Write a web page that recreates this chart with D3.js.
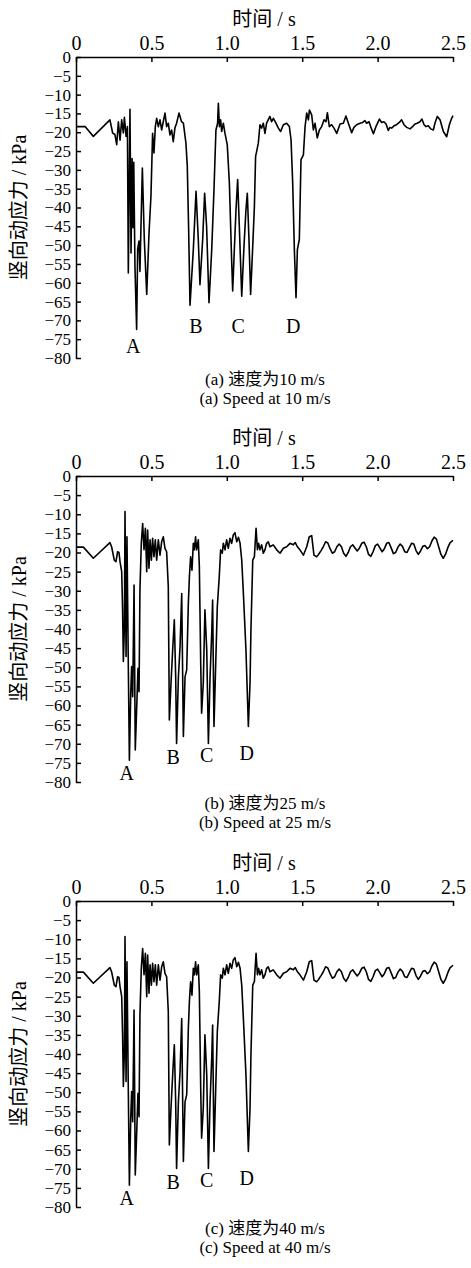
<!DOCTYPE html>
<html>
<head>
<meta charset="utf-8">
<script src="https://cdn.jsdelivr.net/npm/d3@7"></script>
<style>
	body { margin: 0; background: #fff; }
	svg { display: block; }
</style>
</head>
<body>
<svg id="chart"></svg>
<script>
// Time axis ticks (s) and stress ticks (kPa)
var timeTicks = [0, 0.5, 1.0, 1.5, 2.0, 2.5];
var stressTicks = d3.range(0, -81, -5);

// Peak labels
var peakNames = ['A', 'B', 'C', 'D'];
var peakTimeA = [0.38, 0.796, 1.076, 1.441];
var peakStressA = [-76.8, -71.5, -71.5, -71.5];
var peakTimeB = [0.336, 0.645, 0.867, 1.132];
var peakStressB = [-77.7, -73.4, -73.0, -72.5];

// Captions
var captionsCn = ['(a) 速度为10 m/s', '(b) 速度为25 m/s', '(c) 速度为40 m/s'];
var captionsEn = ['(a) Speed at 10 m/s', '(b) Speed at 25 m/s', '(c) Speed at 40 m/s'];

// Measured vertical dynamic stress, [time s, stress kPa]
// 10 m/s
var seriesA = [
	[0, -18.5], [0.06, -18.5], [0.115, -21.1], [0.225, -16.7], [0.243, -20.2], [0.258, -20.6],
	[0.27, -23.3], [0.281, -17.2], [0.292, -22.1], [0.303, -16.7], [0.314, -20.2], [0.321, -16.0],
	[0.332, -21.1], [0.341, -18.5], [0.347, -57.4], [0.354, -29.7], [0.358, -13.9], [0.365, -52.1],
	[0.372, -27], [0.378, -45.4], [0.383, -28], [0.391, -55.7], [0.402, -72.4], [0.409, -51],
	[0.418, -48.9], [0.424, -57], [0.44, -29.5], [0.453, -48.5], [0.469, -63.1], [0.484, -47],
	[0.497, -37], [0.508, -20.3], [0.517, -25.5], [0.526, -18.5], [0.535, -16.3], [0.546, -18.5],
	[0.557, -16.7], [0.568, -19.4], [0.59, -14.9], [0.601, -18.5], [0.612, -17.6], [0.623, -20.7],
	[0.634, -19.4], [0.645, -22.5], [0.656, -18.9], [0.667, -17.6], [0.683, -14.9], [0.7, -17.2],
	[0.712, -17.6], [0.729, -22.9], [0.738, -29], [0.747, -46], [0.756, -66], [0.778, -51.2],
	[0.796, -35.7], [0.811, -48.5], [0.822, -60.5], [0.84, -48.5], [0.853, -36.2], [0.866, -45],
	[0.882, -65.3], [0.9, -51.2], [0.915, -35.3], [0.928, -19.4], [0.939, -17.6], [0.944, -12.3],
	[0.951, -18.5], [0.959, -16.7], [0.966, -19.8], [0.977, -17.6], [0.988, -20.3], [1.003, -23.3],
	[1.017, -33.5], [1.032, -53.8], [1.039, -62.2], [1.05, -51.2], [1.061, -40.6], [1.072, -32.6],
	[1.083, -45], [1.099, -63.6], [1.114, -50.3], [1.127, -40.6], [1.136, -36.2], [1.147, -48.5],
	[1.158, -63.1], [1.171, -51.2], [1.183, -39.7], [1.191, -26.4], [1.198, -25.1], [1.209, -22.9],
	[1.22, -18], [1.231, -18.9], [1.242, -17.6], [1.253, -20.3], [1.264, -17.6], [1.286, -15.8],
	[1.297, -17.2], [1.309, -16.3], [1.326, -17.6], [1.342, -18.9], [1.357, -19.8], [1.375, -18],
	[1.397, -17.6], [1.415, -18.5], [1.426, -22], [1.437, -33.5], [1.448, -51.2], [1.459, -64],
	[1.468, -51.2], [1.481, -48.5], [1.492, -27.3], [1.508, -26], [1.519, -18.5], [1.53, -14.9],
	[1.541, -16.7], [1.548, -14.1], [1.563, -15.4], [1.574, -19.4], [1.585, -17.6], [1.6, -21.5],
	[1.614, -19.4], [1.629, -18.5], [1.645, -16.7], [1.658, -17.2], [1.667, -14.8], [1.68, -18.5],
	[1.695, -18], [1.711, -18.9], [1.729, -20.3], [1.751, -17.8], [1.773, -17.6], [1.79, -15.7],
	[1.806, -17.6], [1.828, -20.1], [1.843, -18.7], [1.861, -18], [1.883, -17.6], [1.901, -17.4],
	[1.916, -16.9], [1.927, -17.6], [1.943, -17.2], [1.954, -18.5], [1.972, -20.4], [1.989, -18.5],
	[2.012, -16.5], [2.027, -17.4], [2.042, -17.2], [2.056, -17.8], [2.071, -19.5], [2.082, -18.7],
	[2.093, -18.9], [2.109, -18.3], [2.126, -18], [2.144, -17.4], [2.159, -16.7], [2.175, -18],
	[2.193, -18.7], [2.215, -19.1], [2.232, -18.5], [2.248, -17.8], [2.263, -17.6], [2.281, -17.2],
	[2.294, -16.5], [2.308, -18], [2.321, -18.5], [2.336, -18.3], [2.352, -19.1], [2.37, -19.4],
	[2.38, -17.6], [2.396, -15.8], [2.414, -16.7], [2.436, -19.8], [2.458, -21.2], [2.476, -18],
	[2.491, -16.3], [2.5, -15.6]
];

// 25 m/s and 40 m/s (both records look the same)
var seriesB = [
	[0, -18.6], [0.049, -18.6], [0.115, -21.5], [0.225, -17.4], [0.236, -18.5], [0.254, -22],
	[0.265, -22.4], [0.276, -19.8], [0.285, -20], [0.292, -22.4], [0.303, -25], [0.309, -35],
	[0.314, -48.5], [0.321, -39.4], [0.325, -9.3], [0.332, -47.2], [0.338, -15.9], [0.347, -49.8],
	[0.354, -74.3], [0.363, -56.8], [0.369, -49.8], [0.376, -57.7], [0.385, -28.5], [0.393, -71.6],
	[0.402, -61.2], [0.411, -50.3], [0.418, -56.4], [0.424, -29.8], [0.433, -17.6], [0.442, -12.4],
	[0.451, -19.3], [0.46, -13.7], [0.469, -25], [0.475, -14.1], [0.484, -24.1], [0.491, -16.7],
	[0.5, -22], [0.508, -16.3], [0.517, -21.1], [0.526, -16.7], [0.535, -22], [0.546, -16.7],
	[0.557, -20.7], [0.568, -17.2], [0.579, -15.9], [0.59, -18.9], [0.601, -19.8], [0.612, -28.9],
	[0.619, -63.8], [0.63, -54.2], [0.641, -45.5], [0.652, -37.6], [0.661, -52.5], [0.667, -69.9],
	[0.679, -52.5], [0.69, -44.6], [0.701, -30.7], [0.712, -68.1], [0.723, -52.5], [0.734, -50.7],
	[0.745, -33.3], [0.752, -26.3], [0.76, -21.1], [0.769, -24.6], [0.778, -17.6], [0.785, -19.3],
	[0.793, -15.9], [0.8, -19.3], [0.811, -16.7], [0.818, -23.7], [0.827, -49], [0.833, -62],
	[0.844, -54.2], [0.855, -35], [0.867, -45.5], [0.878, -69.9], [0.889, -52.5], [0.9, -41.1],
	[0.906, -32.4], [0.915, -65.5], [0.926, -49.8], [0.937, -34.2], [0.95, -26.3], [0.959, -19.3],
	[0.97, -20.2], [0.977, -17.6], [0.988, -19.3], [0.999, -16.7], [1.01, -18.9], [1.021, -16.3],
	[1.032, -17.6], [1.043, -15.4], [1.054, -14.8], [1.066, -17.2], [1.077, -16], [1.088, -17.6],
	[1.099, -22], [1.11, -30.7], [1.127, -45.5], [1.143, -65.5], [1.154, -54.2], [1.16, -40.3],
	[1.172, -22], [1.183, -21.1], [1.194, -13.7], [1.203, -19.3], [1.211, -17.6], [1.22, -19.3],
	[1.231, -18], [1.242, -20.2], [1.253, -19.3], [1.264, -17.6], [1.275, -17.2], [1.286, -18.5],
	[1.308, -18], [1.331, -19.3], [1.353, -20.2], [1.375, -18.9], [1.397, -18.5], [1.419, -17.6],
	[1.441, -18], [1.454, -17.4], [1.468, -18.5], [1.485, -19.3], [1.508, -20.7], [1.53, -18.5],
	[1.547, -15.9], [1.563, -15.6], [1.578, -20.7], [1.596, -21.1], [1.607, -20.6], [1.625, -19.5],
	[1.64, -18.5], [1.655, -17.2], [1.67, -17.5], [1.685, -19], [1.7, -20.2], [1.715, -19.8],
	[1.73, -18.5], [1.745, -17.8], [1.76, -18.5], [1.775, -20.2], [1.79, -21], [1.805, -20],
	[1.82, -18.5], [1.835, -18], [1.85, -18.8], [1.865, -19.6], [1.88, -18.8], [1.895, -17.6],
	[1.91, -17.3], [1.925, -18.5], [1.94, -20.5], [1.955, -21], [1.97, -19.8], [1.985, -18.2],
	[2.0, -17.8], [2.015, -18.8], [2.03, -19.8], [2.045, -19], [2.06, -17.6], [2.075, -17.4],
	[2.09, -18.8], [2.105, -20.3], [2.12, -20], [2.135, -18.6], [2.15, -17.8], [2.165, -18.4],
	[2.18, -19.8], [2.195, -20], [2.21, -18.8], [2.225, -17.6], [2.24, -17.8], [2.255, -19.5],
	[2.27, -20.5], [2.285, -19.6], [2.3, -18.4], [2.315, -18.2], [2.33, -19], [2.345, -18.5],
	[2.36, -17], [2.375, -16], [2.39, -16.5], [2.405, -18.5], [2.42, -20.5], [2.435, -21.5],
	[2.45, -20.5], [2.465, -18.8], [2.48, -17.5], [2.5, -16.8]
];

var width = 471;
var height = 1268;
var left = 76;
var right = 453;

var panels = [
	{ top: 57, bottom: 358, series: seriesA, peakT: peakTimeA, peakS: peakStressA },
	{ top: 476, bottom: 782, series: seriesB, peakT: peakTimeB, peakS: peakStressB },
	{ top: 901, bottom: 1207, series: seriesB, peakT: peakTimeB, peakS: peakStressB }
];

var serif = '"Liberation Serif", "Times New Roman", "Noto Sans CJK SC", serif';
var fontSize = 20;

var svg = d3.select('#chart').attr('width', width).attr('height', height);

var xScale = d3.scaleLinear().domain([0, 2.5]).range([left, right]);

var line = d3.line();

panels.forEach(function(p, i) {
	var yScale = d3.scaleLinear().domain([0, -80]).range([p.top, p.bottom]);
	var g = svg.append('g').attr('font-family', serif);

	// top time axis, ticks pointing inside
	var xAxis = d3
		.axisTop(xScale)
		.tickValues(timeTicks)
		.tickFormat(function(d) { return d === 0 ? '0' : d3.format('.1f')(d); })
		.tickSizeInner(-5)
		.tickSizeOuter(0)
		.tickPadding(7);
	var gx = g.append('g')
		.attr('transform', 'translate(0,' + p.top + ')')
		.call(xAxis);
	gx.selectAll('.tick text').attr('font-size', fontSize);

	// left stress axis (labels packed tightly, smaller font)
	var yAxis = d3
		.axisLeft(yScale)
		.tickValues(stressTicks)
		.tickFormat(d3.format('d'))
		.tickSizeInner(-5)
		.tickSizeOuter(0)
		.tickPadding(5);
	var gy = g.append('g')
		.attr('transform', 'translate(' + left + ',0)')
		.call(yAxis);
	gy.selectAll('.tick text').attr('font-size', 17);

	g.selectAll('.domain, .tick line').attr('stroke', '#000').attr('stroke-width', 1.5);
	g.selectAll('.tick text')
		.attr('font-family', serif)
		.attr('fill', '#000');

	// axis titles
	g.append('text')
		.attr('x', 264)
		.attr('y', p.top - 31)
		.attr('text-anchor', 'middle')
		.attr('font-size', fontSize)
		.text('时间 / s');

	g.append('text')
		.attr('transform', 'translate(26,' + (p.top + p.bottom) / 2 + ') rotate(-90)')
		.attr('text-anchor', 'middle')
		.attr('font-size', fontSize)
		.text('竖向动应力 / kPa');

	// stress record
	g.append('path')
		.datum(p.series)
		.attr('fill', 'none')
		.attr('stroke', '#000')
		.attr('stroke-width', 1.6)
		.attr('stroke-linejoin', 'round')
		.attr('d', line.x(d => xScale(d[0])).y(d => yScale(d[1])));

	// peak labels
	g.selectAll('.peak')
		.data(peakNames)
		.enter()
		.append('text')
		.attr('class', 'peak')
		.attr('x', (d, k) => xScale(p.peakT[k]))
		.attr('y', (d, k) => yScale(p.peakS[k]))
		.attr('dy', '0.35em')
		.attr('text-anchor', 'middle')
		.attr('font-size', fontSize)
		.text(d => d);

	// captions
	g.append('text')
		.attr('x', 265)
		.attr('y', p.bottom + 27)
		.attr('text-anchor', 'middle')
		.attr('font-size', 17)
		.text(captionsCn[i]);

	g.append('text')
		.attr('x', 265)
		.attr('y', p.bottom + 46)
		.attr('text-anchor', 'middle')
		.attr('font-size', 17)
		.text(captionsEn[i]);
});
</script>
</body>
</html>
